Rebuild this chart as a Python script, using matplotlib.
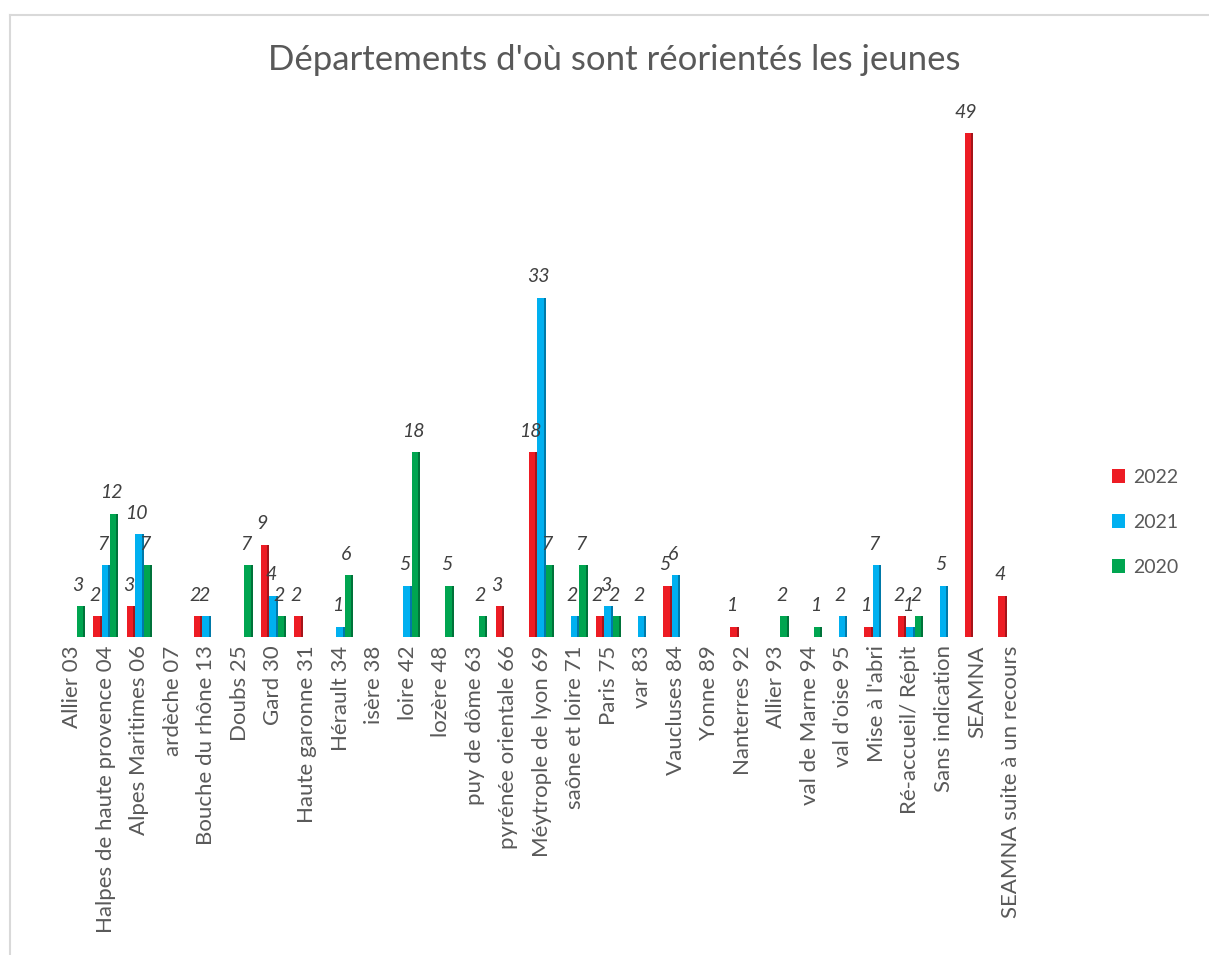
"""Bar chart: départements d'où sont réorientés les jeunes"""
import matplotlib.pyplot as plt
from matplotlib.lines import Line2D
from matplotlib.patches import Patch
import numpy as np

plt.rcParams['font.family'] = ['Lato', 'DejaVu Sans']

categories = [
    "Allier 03", "Halpes de haute provence 04", "Alpes Maritimes 06", "ardèche 07",
    "Bouche du rhône 13", "Doubs 25", "Gard 30", "Haute garonne 31", "Hérault 34",
    "isère 38", "loire 42", "lozère 48", "puy de dôme 63", "pyrénée orientale 66",
    "Méytrople de lyon 69", "saône et loire 71", "Paris 75", "var 83", "Vaucluses 84",
    "Yonne 89", "Nanterres 92", "Allier 93", "val de Marne 94", "val d'oise 95",
    "Mise à l'abri", "Ré-accueil/ Répit", "Sans indication", "SEAMNA",
    "SEAMNA suite à un recours",
]

# None = no bar for that year
v2022 = [None, 2, 3, None, 2, None, 9, 2, None, None, None, None, None, 3,
         18, None, 2, None, 5, None, 1, None, None, None, 1, 2, None, 49, 4]
v2021 = [None, 7, 10, None, 2, None, 4, None, 1, None, 5, None, None, None,
         33, 2, 3, 2, 6, None, None, None, None, 2, 7, 1, 5, None, None]
v2020 = [3, 12, 7, None, None, 7, 2, None, 6, None, 18, 5, 2, None,
         7, 7, 2, None, None, None, None, 2, 1, None, None, 2, None, None, None]

series = [("2022", v2022, "#ED1C24", "#A5141A"),
          ("2021", v2021, "#00B0F0", "#0079A8"),
          ("2020", v2020, "#00A550", "#00733A")]

fig = plt.figure(figsize=(12.09, 9.55), dpi=100)
ax = fig.add_axes([0.046, 0.333, 0.804, 0.538])

x = np.arange(len(categories))
w = 0.25
side = 0.06
for i, (name, vals, col, dark) in enumerate(series):
    off = (i - 1) * w
    for xi, v in zip(x, vals):
        if v is None:
            continue
        ax.bar(xi + off, v, width=w, color=col, linewidth=0, zorder=2)
        # darker strip on the right to mimic the 3D side face
        ax.bar(xi + off + w / 2 - side / 2, v, width=side, color=dark,
               linewidth=0, zorder=3)
        ax.annotate(str(v), (xi + off, v), xytext=(-2, 9), textcoords="offset points",
                    ha="center", va="bottom", fontsize=14, style="italic",
                    color="#404040")

ax.set_xlim(-0.5, len(categories) - 0.5)
ax.set_ylim(0, 50)
ax.set_yticks([])
ax.set_xticks(x)
ax.set_xticklabels(categories, rotation=90, fontsize=16, color="#595959")
ax.tick_params(axis="x", length=0, pad=6)
for s in ax.spines.values():
    s.set_visible(False)

fig.text(0.508, 0.937, "Départements d'où sont réorientés les jeunes",
         ha="center", va="center", fontsize=25, color="#595959")

handles = [Patch(facecolor=c, edgecolor="none") for _, _, c, _ in series]
fig.legend(handles, [n for n, _, _, _ in series], loc="center left",
           bbox_to_anchor=(0.905, 0.453), frameon=False, fontsize=14,
           labelcolor="#595959", handlelength=0.7, handleheight=0.7,
           handletextpad=0.4, labelspacing=1.45)

# thin border of the chart area (left and top only visible)
fig.add_artist(Line2D([10 / 1209, 10 / 1209], [0, 1 - 15 / 955],
                      transform=fig.transFigure, color="#D9D9D9", lw=1.5))
fig.add_artist(Line2D([10 / 1209, 1], [1 - 15 / 955, 1 - 15 / 955],
                      transform=fig.transFigure, color="#D9D9D9", lw=1.5))

fig.savefig("out.png", dpi=100, facecolor="white")
